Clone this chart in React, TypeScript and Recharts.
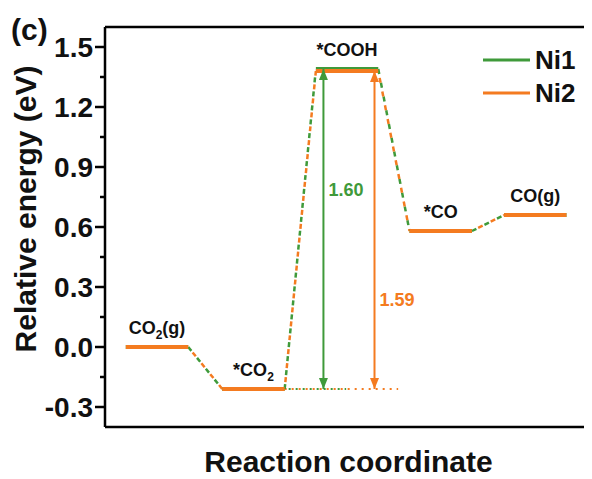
import React from 'react';
import { LineChart, Line, XAxis, YAxis, ReferenceLine, ReferenceDot, Legend } from 'recharts';

// ---------- data ----------
const steps = ['CO2(g)', '*CO2', '*COOH', '*CO', 'CO(g)'];
const stepPos = [1, 2.02, 3.01, 4.0, 5.0];
const ni1Energy = [0, -0.21, 1.39, 0.58, 0.66];
const ni2Energy = [0, -0.21, 1.38, 0.58, 0.66];
const seriesNames = ['Ni1', 'Ni2'];
const seriesColors = ['#3f9a3a', '#f47b20'];
const barrierLabels = ['1.60', '1.59'];
const barrierX = [2.76, 3.3];
const barrierLabelY = [0.785, 0.235];
const majorTicks = [-0.3, 0, 0.3, 0.6, 0.9, 1.2, 1.5];
const minorTicks = [-0.15, 0.15, 0.45, 0.75, 1.05, 1.35];

// ---------- layout / style ----------
const HALF = 0.33;
const FONT = "'Liberation Sans', Arial, Helvetica, sans-serif";
const TICK_SIZE = 10;
const TICK_MARGIN = 2;
const allTicks = [...majorTicks, ...minorTicks].sort((a, b) => a - b);

type Pt = { x: number; y: number | null };

const levelData = (e: number[]): Pt[] =>
  e.flatMap((v, i) => [
    { x: stepPos[i] - HALF, y: v },
    { x: stepPos[i] + HALF, y: v },
    { x: stepPos[i] + HALF + 0.001, y: null },
  ]);

const connectorData = (e: number[]): Pt[] =>
  e.slice(0, -1).flatMap((v, i) => [
    { x: stepPos[i] + HALF, y: v },
    { x: stepPos[i + 1] - HALF, y: e[i + 1] },
    { x: stepPos[i + 1] - HALF + 0.001, y: null },
  ]);

const energies = [ni1Energy, ni2Energy];

const arrowData = (k: number): Pt[] => [
  { x: barrierX[k], y: energies[k][1] },
  { x: barrierX[k], y: energies[k][2] },
];

const baselineData = (k: number): Pt[] => [
  { x: stepPos[1] + HALF, y: energies[k][1] },
  { x: k === 0 ? 3.0 : 3.55, y: energies[k][1] },
];

const YTick = (props: any) => {
  const { x, y, payload } = props;
  const v = payload.value as number;
  const major = majorTicks.some((t) => Math.abs(t - v) < 1e-9);
  const axisX = x + TICK_SIZE + TICK_MARGIN;
  return (
    <g>
      <line
        x1={axisX - (major ? TICK_SIZE : TICK_SIZE / 2)}
        x2={axisX}
        y1={y}
        y2={y}
        stroke="#000"
        strokeWidth={2.5}
      />
      {major && (
        <text
          x={x}
          y={y}
          textAnchor="end"
          dominantBaseline="central"
          fontFamily={FONT}
          fontWeight="bold"
          fontSize={28}
          fill="#111"
        >
          {v.toFixed(1)}
        </text>
      )}
    </g>
  );
};

const renderStepLabel = (label: string) => {
  const parts = label.split('2');
  const out: React.ReactNode[] = [];
  parts.forEach((p, i) => {
    if (i > 0) {
      out.push(
        <tspan key={'s' + i} fontSize={12} dy={5}>
          2
        </tspan>
      );
      out.push(
        <tspan key={'p' + i} dy={-5}>
          {p}
        </tspan>
      );
    } else {
      out.push(<tspan key={'p' + i}>{p}</tspan>);
    }
  });
  return out;
};

const arrowDot = (color: string) => (p: any) => {
  const { cx, cy, index } = p;
  if (cx == null || cy == null) return <g key={index} />;
  const dir = index === 0 ? 1 : -1;
  return (
    <path
      key={index}
      d={`M${cx},${cy} L${cx - 4.5},${cy - dir * 11} L${cx + 4.5},${cy - dir * 11} Z`}
      fill={color}
    />
  );
};

const LegendContent = () => (
  <svg width={120} height={70} style={{ display: 'block' }}>
    {seriesNames.map((n, i) => (
      <g key={n}>
        <line x1={5} x2={52} y1={15 + i * 33} y2={15 + i * 33} stroke={seriesColors[i]} strokeWidth={3} />
        <text
          x={57}
          y={15 + i * 33}
          dominantBaseline="central"
          fontFamily={FONT}
          fontWeight="bold"
          fontSize={26}
          fill="#111"
        >
          {n}
        </text>
      </g>
    ))}
  </svg>
);

export default function App() {
  return (
    <div style={{ position: 'relative', width: 584, height: 471 }}>
      <div
        style={{
          position: 'absolute',
          left: 3,
          top: 7,
          fontFamily: FONT,
          fontWeight: 'bold',
          fontSize: 30,
          lineHeight: 1,
          color: '#111',
          zIndex: 2,
        }}
      >
        (c)
      </div>
      <LineChart width={584} height={471} margin={{ top: 19, right: 0, left: 0, bottom: 0 }}>
        <XAxis
          type="number"
          dataKey="x"
          domain={[0.45, 5.6]}
          allowDataOverflow
          tick={false}
          tickLine={false}
          height={52}
          axisLine={{ stroke: '#000', strokeWidth: 2.5 }}
          label={{
            content: (p: any) => {
              const vb = p.viewBox || { x: 97, width: 487, y: 419 };
              return (
                <text
                  x={vb.x + vb.width / 2}
                  y={464}
                  textAnchor="middle"
                  fontFamily={FONT}
                  fontWeight="bold"
                  fontSize={30}
                  fill="#111"
                >
                  Reaction coordinate
                </text>
              );
            },
          }}
        />
        <YAxis
          type="number"
          domain={[-0.4, 1.6]}
          allowDataOverflow
          ticks={allTicks}
          interval={0}
          width={97}
          tickSize={TICK_SIZE}
          tickMargin={TICK_MARGIN}
          tickLine={false}
          tick={<YTick />}
          axisLine={{ stroke: '#000', strokeWidth: 2.5 }}
          label={{
            content: () => (
              <text
                transform="translate(17,201) rotate(-90)"
                textAnchor="middle"
                dominantBaseline="central"
                fontFamily={FONT}
                fontWeight="bold"
                fontSize={30}
                fill="#111"
              >
                Relative energy (eV)
              </text>
            ),
          }}
        />
        <ReferenceLine y={1.6} stroke="#000" strokeWidth={2.5} />

        {/* dotted baselines */}
        <Line
          data={baselineData(1)}
          dataKey="y"
          stroke={seriesColors[1]}
          strokeWidth={2}
          strokeDasharray="2 5"
          dot={false}
          activeDot={false}
          isAnimationActive={false}
          legendType="none"
        />
        <Line
          data={baselineData(0)}
          dataKey="y"
          stroke={seriesColors[0]}
          strokeWidth={2}
          strokeDasharray="2 5"
          strokeDashoffset={3}
          dot={false}
          activeDot={false}
          isAnimationActive={false}
          legendType="none"
        />

        {/* connectors */}
        <Line
          data={connectorData(ni1Energy)}
          dataKey="y"
          stroke={seriesColors[0]}
          strokeWidth={2.5}
          strokeDasharray="5 9"
          dot={false}
          activeDot={false}
          isAnimationActive={false}
          legendType="none"
        />
        <Line
          data={connectorData(ni2Energy)}
          dataKey="y"
          stroke={seriesColors[1]}
          strokeWidth={2.5}
          strokeDasharray="5 9"
          strokeDashoffset={7}
          dot={false}
          activeDot={false}
          isAnimationActive={false}
          legendType="none"
        />

        {/* levels */}
        <Line
          data={levelData(ni1Energy)}
          dataKey="y"
          name={seriesNames[0]}
          stroke={seriesColors[0]}
          strokeWidth={4}
          dot={false}
          activeDot={false}
          isAnimationActive={false}
        />
        <Line
          data={levelData(ni2Energy)}
          dataKey="y"
          name={seriesNames[1]}
          stroke={seriesColors[1]}
          strokeWidth={4}
          dot={false}
          activeDot={false}
          isAnimationActive={false}
        />

        {/* barrier arrows */}
        {[0, 1].map((k) => (
          <Line
            key={'arrow' + k}
            data={arrowData(k)}
            dataKey="y"
            stroke={seriesColors[k]}
            strokeWidth={2}
            dot={arrowDot(seriesColors[k])}
            activeDot={false}
            isAnimationActive={false}
            legendType="none"
          />
        ))}

        {/* step labels */}
        {steps.map((s, i) => (
          <ReferenceDot
            key={'lbl' + i}
            x={stepPos[i]}
            y={Math.max(ni1Energy[i], ni2Energy[i])}
            r={0}
            shape={(p: any) => (
              <text
                x={p.cx}
                y={p.cy - 13}
                textAnchor="middle"
                fontFamily={FONT}
                fontWeight="bold"
                fontSize={18}
                fill="#111"
              >
                {renderStepLabel(s)}
              </text>
            )}
          />
        ))}

        {/* barrier labels */}
        {[0, 1].map((k) => (
          <ReferenceDot
            key={'bl' + k}
            x={barrierX[k]}
            y={barrierLabelY[k]}
            r={0}
            shape={(p: any) => (
              <text
                x={p.cx + 5}
                y={p.cy}
                dominantBaseline="central"
                fontFamily={FONT}
                fontWeight="bold"
                fontSize={18}
                fill={seriesColors[k]}
              >
                {barrierLabels[k]}
              </text>
            )}
          />
        ))}

        <Legend
          layout="horizontal"
          verticalAlign="middle"
          align="center"
          content={() => <LegendContent />}
          wrapperStyle={{ position: 'absolute', left: 470, top: 37, width: 120, height: 70 }}
        />
      </LineChart>
    </div>
  );
}
